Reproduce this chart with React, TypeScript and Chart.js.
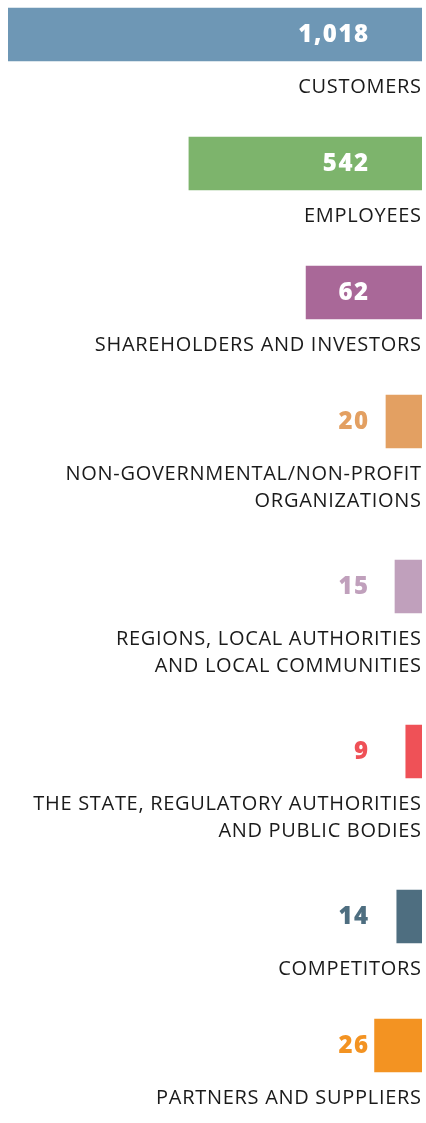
import React, { useEffect, useRef } from "react";
import { Chart, registerables, LinearScale } from "chart.js";

const categories: string[][] = [
  ["CUSTOMERS"],
  ["EMPLOYEES"],
  ["SHAREHOLDERS AND INVESTORS"],
  ["NON-GOVERNMENTAL/NON-PROFIT", "ORGANIZATIONS"],
  ["REGIONS, LOCAL AUTHORITIES", "AND LOCAL COMMUNITIES"],
  ["THE STATE, REGULATORY AUTHORITIES", "AND PUBLIC BODIES"],
  ["COMPETITORS"],
  ["PARTNERS AND SUPPLIERS"],
];
const values = [1018, 542, 62, 20, 15, 9, 14, 26];
const colors = [
  "#6E97B5",
  "#7DB46C",
  "#A96898",
  "#E3A062",
  "#C0A0BC",
  "#EF5157",
  "#4E6E80",
  "#F39322",
];
// broken (non-linear) value axis: value breakpoints and share of axis length
const axisBreaks = [0, 20, 62, 542, 1018];
const axisShares = [0, 0.087, 0.28, 0.563, 1];

const W = 426;
const H = 1123;
const BAR = 53;
const ROW_BASE = 93;
const LINE_STEP = 36;
const VALUE_RIGHT = 368;
const LABEL_RIGHT = 421;

function toShare(v: number) {
  if (v <= axisBreaks[0]) return 0;
  for (let i = 1; i < axisBreaks.length; i++) {
    if (v <= axisBreaks[i]) {
      const t = (v - axisBreaks[i - 1]) / (axisBreaks[i] - axisBreaks[i - 1]);
      return axisShares[i - 1] + t * (axisShares[i] - axisShares[i - 1]);
    }
  }
  return 1;
}
function fromShare(s: number) {
  for (let i = 1; i < axisShares.length; i++) {
    if (s <= axisShares[i]) {
      const t = (s - axisShares[i - 1]) / (axisShares[i] - axisShares[i - 1]);
      return axisBreaks[i - 1] + t * (axisBreaks[i] - axisBreaks[i - 1]);
    }
  }
  return axisBreaks[axisBreaks.length - 1];
}

class BrokenScale extends (LinearScale as any) {
  static id = "broken";
  static defaults = (LinearScale as any).defaults;
  getPixelForValue(value: number) {
    if (value === null || value === undefined || isNaN(value)) return NaN;
    return this.getPixelForDecimal(toShare(value));
  }
  getValueForPixel(pixel: number) {
    return fromShare(this.getDecimalForPixel(pixel));
  }
}

Chart.register(...registerables, BrokenScale as any);

// row centres derived from the number of label lines
const centers: number[] = [];
{
  let top = 8;
  categories.forEach((lines) => {
    centers.push(top + BAR / 2);
    top += ROW_BASE + LINE_STEP * lines.length;
  });
}

const labelPlugin = {
  id: "labelPlugin",
  afterDatasetsDraw(chart: any) {
    const ctx = chart.ctx;
    const meta = chart.getDatasetMeta(0);
    ctx.save();
    meta.data.forEach((bar: any, i: number) => {
      const p = bar.getProps(["x", "y", "base", "height"], true);
      const left = Math.min(p.x, p.base);
      const text = values[i].toLocaleString("en-US");
      ctx.font = '800 24px "Open Sans"';
      (ctx as any).letterSpacing = "1.5px";
      ctx.textAlign = "right";
      ctx.textBaseline = "middle";
      const w = ctx.measureText(text).width;
      ctx.fillStyle = left < VALUE_RIGHT - w - 4 ? "#ffffff" : colors[i];
      ctx.fillText(text, VALUE_RIGHT + 1.5, p.y + 1);
      ctx.font = '20px "Open Sans"';
      (ctx as any).letterSpacing = "0.7px";
      ctx.fillStyle = "#1a1a1a";
      const bottom = p.y + p.height / 2;
      categories[i].forEach((line, j) => {
        ctx.fillText(line, LABEL_RIGHT + 0.7, bottom + 26.5 + j * 27);
      });
    });
    (ctx as any).letterSpacing = "0px";
    ctx.restore();
  },
};

export default function App() {
  const ref = useRef<HTMLCanvasElement>(null);
  useEffect(() => {
    if (!ref.current) return;
    const chart = new Chart(ref.current, {
      type: "bar",
      data: {
        datasets: [
          {
            data: values.map((v, i) => ({ x: v, y: centers[i] })) as any,
            backgroundColor: colors,
            borderWidth: 0,
            barThickness: BAR,
          } as any,
        ],
      },
      options: {
        indexAxis: "y",
        responsive: false,
        animation: false,
        devicePixelRatio: 1,
        layout: { padding: { left: 8, right: 4, top: 0, bottom: 0 } },
        scales: {
          x: {
            type: "broken" as any,
            min: 0,
            max: 1018,
            reverse: true,
            display: false,
          },
          y: {
            type: "linear",
            min: 0,
            max: H,
            reverse: true,
            offset: false,
            display: false,
          },
        },
        plugins: {
          legend: { display: false },
          tooltip: { enabled: false },
        },
      } as any,
      plugins: [labelPlugin],
    });
    if ((document as any).fonts && (document as any).fonts.ready) {
      (document as any).fonts.ready.then(() => chart.update());
    }
    return () => chart.destroy();
  }, []);
  return (
    <div style={{ position: "absolute", left: 0, top: 0, width: W, height: H }}>
      <canvas ref={ref} width={W} height={H} style={{ display: "block" }} />
    </div>
  );
}
